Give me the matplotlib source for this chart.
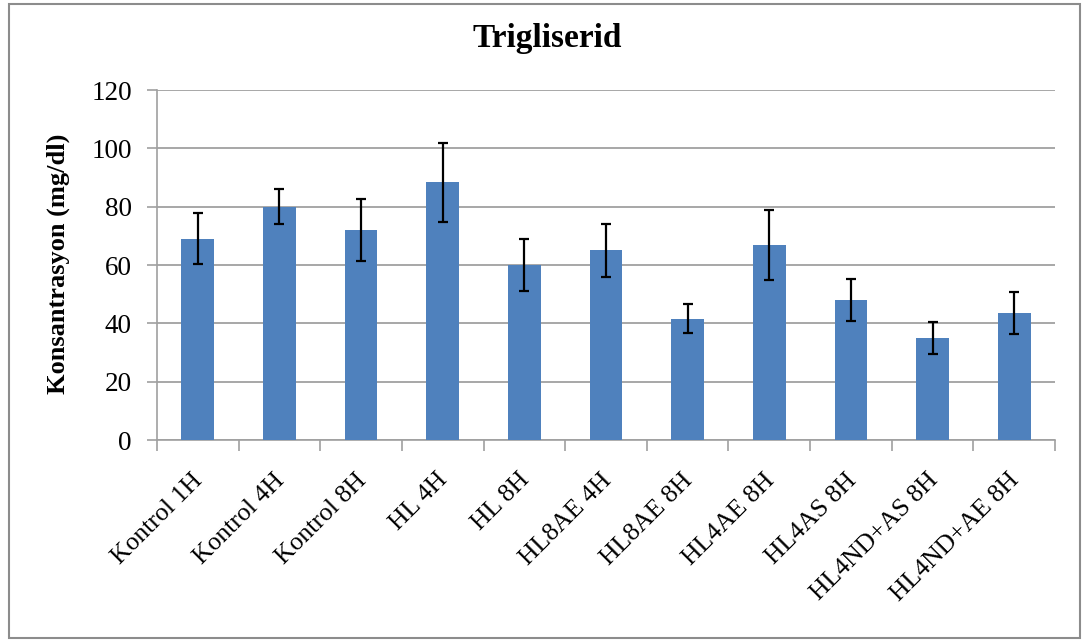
import numpy as np
import matplotlib
matplotlib.use("Agg")
from matplotlib import pyplot as plt
from matplotlib.patches import Rectangle
from matplotlib.transforms import ScaledTranslation

## Trigliserid bar chart with error bars
groups = ["Kontrol 1H", "Kontrol 4H", "Kontrol 8H", "HL 4H", "HL 8H", "HL8AE 4H",
          "HL8AE 8H", "HL4AE 8H", "HL4AS 8H", "HL4ND+AS 8H", "HL4ND+AE 8H"]
means = [69, 80, 72, 88.3, 60, 65, 41.6, 66.8, 48, 35, 43.6]
errs = [8.8, 6, 10.6, 13.7, 9, 9, 5, 11.9, 7.3, 5.6, 7.3]
yticks = [0, 20, 40, 60, 80, 100, 120]

plt.rcParams['font.family'] = ['Liberation Serif', 'DejaVu Serif']

fig = plt.figure(figsize=(10.85, 6.43), dpi=100)
ax = fig.add_axes([0.1447, 0.3157, 0.9724 - 0.1447, 0.860 - 0.3157])

x = np.arange(len(groups))
ax.bar(x, means, width=0.4, color='#4F81BD', zorder=3)
ax.errorbar(x, means, yerr=errs, fmt='none', ecolor='black', elinewidth=1.6,
            capsize=3.5, capthick=1.6, zorder=4)

ax.set_xlim(-0.5, len(groups) - 0.5)
ax.set_ylim(0, 120)
ax.set_yticks(yticks)
ax.tick_params(axis='y', labelsize=19.5, length=7, color='#A0A0A0', width=1.2, pad=11)
ax.yaxis.grid(True, color='#A0A0A0', linewidth=1.3, zorder=0)

# x ticks between categories, labels in the middle
ax.set_xticks(np.arange(-0.5, len(groups), 1.0), minor=True)
ax.set_xticks(x)
ax.set_xticklabels(groups, rotation=45, ha='right', rotation_mode='anchor', fontsize=18.5)
ax.tick_params(axis='x', which='major', length=0, pad=21)
ax.tick_params(axis='x', which='minor', length=8, color='#A0A0A0', width=1.2)
shift = ScaledTranslation(-6 / 100, 0, fig.dpi_scale_trans)
for lbl in ax.get_xticklabels():
    lbl.set_transform(lbl.get_transform() + shift)

for s in ['top', 'right']:
    ax.spines[s].set_visible(False)
for s in ['left', 'bottom']:
    ax.spines[s].set_color('#A0A0A0')
    ax.spines[s].set_linewidth(1.2)

fig.text(0.504, 0.94, "Trigliserid", ha='center', va='center', fontsize=24, fontweight='bold')
fig.text(0.054, 0.59, "Konsantrasyon (mg/dl)", ha='center', va='center', rotation=90,
         fontsize=19, fontweight='bold')

# outer chart frame
fig.patches.append(Rectangle((0.008, 0.008), 0.987, 0.986, transform=fig.transFigure,
                             fill=False, edgecolor='#8C8C8C', linewidth=1.5))

fig.savefig('out.png', dpi=100)
